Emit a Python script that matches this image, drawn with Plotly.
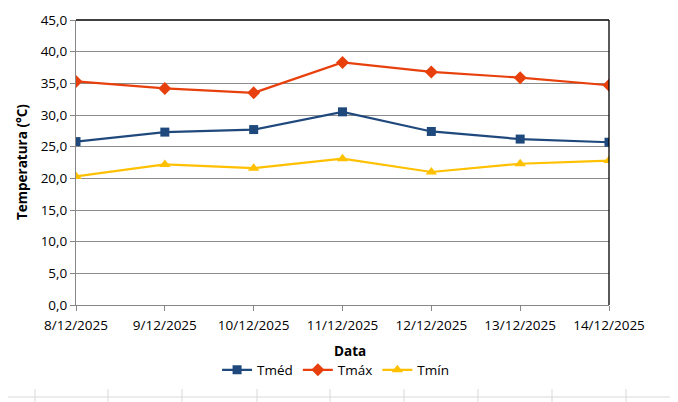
import plotly.graph_objects as go

dates = ["8/12/2025", "9/12/2025", "10/12/2025", "11/12/2025", "12/12/2025", "13/12/2025", "14/12/2025"]
tmed = [25.8, 27.3, 27.7, 30.5, 27.4, 26.2, 25.7]
tmax = [35.3, 34.2, 33.5, 38.3, 36.8, 35.9, 34.7]
tmin = [20.3, 22.2, 21.6, 23.1, 21.0, 22.3, 22.8]
yticks = [0, 5, 10, 15, 20, 25, 30, 35, 40, 45]
x_title = "Data"
y_title = "Temperatura (°C)"

OFF = 8  # page body margin
W, H = 678 - OFF, 402 - OFF
L, R, T, B = 76 - OFF, 609 - OFF, 20 - OFF, 305 - OFF

fig = go.Figure()
fig.add_trace(go.Scatter(x=dates, y=tmed, name="Tméd", mode="lines+markers",
                         line=dict(color="#1F497D", width=2.2),
                         marker=dict(symbol="square", size=9, color="#1F497D")))
fig.add_trace(go.Scatter(x=dates, y=tmax, name="Tmáx", mode="lines+markers",
                         line=dict(color="#E8400C", width=2.2),
                         marker=dict(symbol="diamond", size=10, color="#E8400C")))
fig.add_trace(go.Scatter(x=dates, y=tmin, name="Tmín", mode="lines+markers",
                         line=dict(color="#FFC000", width=2.2),
                         marker=dict(symbol="triangle-up", size=10, color="#FFC000")))

fam = "Open Sans"
fs = 13.5
font = dict(family=fam, size=fs, color="#000000")

def px(pix):
    return (pix - OFF - L) / (R - L)

def py(pix):
    return (B - (pix - OFF)) / (B - T)

fig.update_layout(
    width=W, height=H,
    margin=dict(l=L, r=W - R, t=T, b=H - B, autoexpand=False),
    paper_bgcolor="white", plot_bgcolor="white",
    font=font,
    showlegend=True,
    legend=dict(orientation="h", x=0.487, xanchor="center", y=(H - (370 - OFF)) / H, yref="container",
                yanchor="middle", font=dict(family=fam, size=fs),
                itemwidth=30, tracegroupgap=0),
    xaxis=dict(
        type="category", range=[0, 6], tickvals=dates, ticktext=dates,
        showgrid=False, showline=True, linecolor="#878787", linewidth=1,
        ticks="outside", ticklen=5, tickcolor="#878787", automargin=False,
        ticklabelstandoff=3, mirror=False,
    ),
    yaxis=dict(
        range=[0, 45], tickvals=yticks, ticktext=[f"{v:.1f}".replace(".", ",") for v in yticks],
        showgrid=True, gridcolor="#8C8C8C", gridwidth=1,
        showline=True, linecolor="#878787", linewidth=1,
        ticks="outside", ticklen=5, tickcolor="#878787", automargin=False,
        zeroline=False,
    ),
    annotations=[
        dict(text=f"<b>{x_title}</b>", xref="paper", yref="paper", x=px(350), y=py(351),
             xanchor="center", yanchor="middle", showarrow=False, font=dict(family=fam, size=fs)),
        dict(text=f"<b>{y_title}</b>", xref="paper", yref="paper", x=px(22), y=py(162),
             xanchor="center", yanchor="middle", showarrow=False, textangle=-90,
             font=dict(family=fam, size=fs)),
    ],
)

# top and right plot borders (black)
fig.add_shape(type="line", xref="paper", yref="paper", x0=0, x1=1, y0=1, y1=1,
              line=dict(color="black", width=1.3))
fig.add_shape(type="line", xref="paper", yref="paper", x0=1, x1=1, y0=0, y1=1,
              line=dict(color="black", width=1.3))

# faint spreadsheet cell lines around the chart (page pixel coords)
cols = [35, 108, 182, 257, 330, 404, 478, 552, 626]
for cx in cols:
    fig.add_shape(type="line", xref="paper", yref="paper", x0=px(cx), x1=px(cx),
                  y0=py(389), y1=py(402), line=dict(color="#D9D9D9", width=1), layer="below")
fig.add_shape(type="line", xref="paper", yref="paper", x0=px(0), x1=px(678),
              y0=py(397), y1=py(397), line=dict(color="#D9D9D9", width=1), layer="below")

fig.write_html("out.html")
